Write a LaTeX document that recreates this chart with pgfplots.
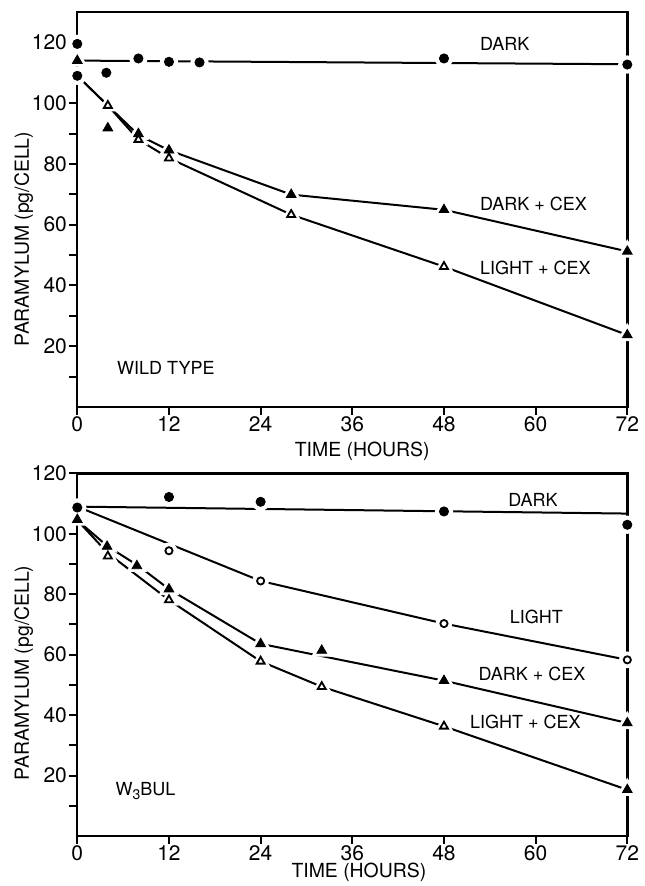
\documentclass[border=0pt]{standalone}
\usepackage{pgfplots}
\pgfplotsset{compat=1.18}
\usepackage{fontspec}
\setmainfont{TeX Gyre Heros}

\pgfplotsset{
  panel/.style={
    scale only axis, width=275pt,
    xmin=0, xmax=72, ymin=0,
    xtick={0,12,...,72},
    ytick={20,40,...,120},
    minor ytick={10,30,...,110},
    tick pos=left, tick align=outside,
    major tick length=4pt, minor tick length=4pt,
    every tick/.style={black, line width=1pt},
    axis line style={line width=1.2pt},
    xticklabel style={font=\fontsize{10.5}{12}\selectfont, inner sep=0.5pt},
    yticklabel style={font=\fontsize{10.5}{12}\selectfont, inner sep=1pt},
    /pgf/number format/assume math mode=true,
    label style={font=\fontsize{9.7}{11}\selectfont},
    ylabel={PARAMYLUM (pg/CELL)},
    xlabel={TIME (HOURS)},
    axis on top, clip=false,
  },
  fitline/.style={black, line width=1pt, no marks},
  halo/.style={only marks, mark=#1, mark options={draw=white, fill=white, line width=2.5pt}},
  fcirc/.style={only marks, mark=*, mark size=2.3pt, mark options={fill=black, draw=black}},
  ocirc/.style={only marks, mark=o, mark size=1.8pt, mark options={draw=black, line width=0.9pt}},
  ftri/.style={only marks, mark=triangle*, mark size=2.8pt, mark options={fill=black, draw=black}},
  otri/.style={only marks, mark=triangle, mark size=2.3pt, mark options={draw=black, line width=0.9pt}},
}
\newcommand{\lab}{\fontsize{9}{10}\selectfont}

\begin{document}
\begin{tikzpicture}
\path[use as bounding box] (-38.65pt,-25pt) rectangle (283.35pt,418pt);

% ---------------- wild type ----------------
\begin{axis}[panel, at={(0,214.5pt)}, anchor=south west,
  height=197.5pt, ymax=130,
  ylabel style={at={(axis description cs:-0.088,0.425)}, anchor=base},
  xlabel style={at={(axis description cs:0.518,0)}, anchor=base, inner sep=0pt, yshift=-25pt},
]
% lines
\addplot[fitline] coordinates {(0,114) (72,112.8)};
\addplot[fitline] coordinates {(0,109) (4,99.2) (8,89.5) (12,84.5) (28,69.9) (48,64.9) (72,51.2)};
\addplot[fitline] coordinates {(0,109) (4,99.2) (8,88) (12,81.9) (28,63.3) (48,46.2) (72,23.7)};
% halos
\addplot[halo=*, mark size=3.3pt] coordinates {(0,119.5) (3.8,110) (8,114.7) (12,113.6) (16,113.4) (48,114.7) (72,112.7) (0,109)};
\addplot[halo=triangle*, mark size=3.6pt] coordinates {(0,114) (4,91.8) (8,89.9) (12,84.5) (28,69.9) (48,64.9) (72,51.2) (72,23.7)};
\addplot[halo=triangle*, mark size=3.2pt] coordinates {(4,99.2) (8,88) (12,81.9) (28,63.3) (48,46.2)};
% marks
\addplot[fcirc] coordinates {(0,119.5) (3.8,110) (8,114.7) (12,113.6) (16,113.4) (48,114.7) (72,112.7) (0,109)};
\addplot[otri] coordinates {(4,99.2) (8,88) (12,81.9) (28,63.3) (48,46.2)};
\addplot[ftri] coordinates {(0,114) (4,91.8) (8,89.9) (12,84.5) (28,69.9) (48,64.9) (72,51.2) (72,23.7)};
% labels
\node[anchor=west, font=\lab] at (axis cs:51.8,119.6) {DARK};
\node[anchor=west, font=\lab] at (axis cs:51.8,66.9) {DARK + CEX};
\node[anchor=west, font=\lab] at (axis cs:51.8,45.8) {LIGHT + CEX};
\node[anchor=west, font=\lab] at (axis cs:4.3,12.8) {WILD TYPE};
\end{axis}

% ---------------- W3BUL ----------------
\begin{axis}[panel, at={(0,0)}, anchor=south west,
  height=181.3pt, ymax=120,
  ylabel style={at={(axis description cs:-0.088,0.45)}, anchor=base},
  xlabel style={at={(axis description cs:0.512,0)}, anchor=base, inner sep=0pt, yshift=-20.8pt},
]
% lines
\addplot[fitline] coordinates {(0,109) (72,106.7)};
\addplot[fitline] coordinates {(0,109) (24,84.4) (48,70.3) (72,58.3)};
\addplot[fitline] coordinates {(0,104.5) (4,95.8) (8,89.4) (12,81.7) (24,63.6) (48,51.4) (72,37.4)};
\addplot[fitline] coordinates {(0,104.5) (4,93.6) (12,78.1) (24,57.8) (32,49.4) (48,36.3) (72,15.3)};
% halos
\addplot[halo=*, mark size=3.3pt] coordinates {(0,108.7) (12,112.2) (24,110.6) (48,107.4) (72,103)};
\addplot[halo=*, mark size=2.9pt] coordinates {(12,94.4) (24,84.4) (48,70.3) (72,58.3)};
\addplot[halo=triangle*, mark size=3.6pt] coordinates {(0,104.7) (3.9,95.8) (7.8,89.4) (12,81.7) (24,63.6) (32,61.4) (48,51.4) (72,37.4) (72,15.3)};
\addplot[halo=triangle*, mark size=3.2pt] coordinates {(4,92.6) (12,78.1) (24,57.8) (32,49.4) (48,36.3)};
% marks
\addplot[fcirc] coordinates {(0,108.7) (12,112.2) (24,110.6) (48,107.4) (72,103)};
\addplot[ocirc] coordinates {(12,94.4) (24,84.4) (48,70.3) (72,58.3)};
\addplot[otri] coordinates {(4,92.6) (12,78.1) (24,57.8) (32,49.4) (48,36.3)};
\addplot[ftri] coordinates {(0,104.7) (3.9,95.8) (7.8,89.4) (12,81.7) (24,63.6) (32,61.4) (48,51.4) (72,37.4) (72,15.3)};
% labels
\node[anchor=west, font=\lab] at (axis cs:55.5,111.3) {DARK};
\node[anchor=west, font=\lab] at (axis cs:55.7,72.4) {LIGHT};
\node[anchor=west, font=\lab] at (axis cs:51.6,53.6) {DARK + CEX};
\node[anchor=west, font=\lab] at (axis cs:50.5,37.8) {LIGHT + CEX};
\node[anchor=west, font=\lab] at (axis cs:4.1,15) {W\raisebox{-0.45ex}{\fontsize{7}{8}\selectfont 3}BUL};
\end{axis}
\end{tikzpicture}
\end{document}
